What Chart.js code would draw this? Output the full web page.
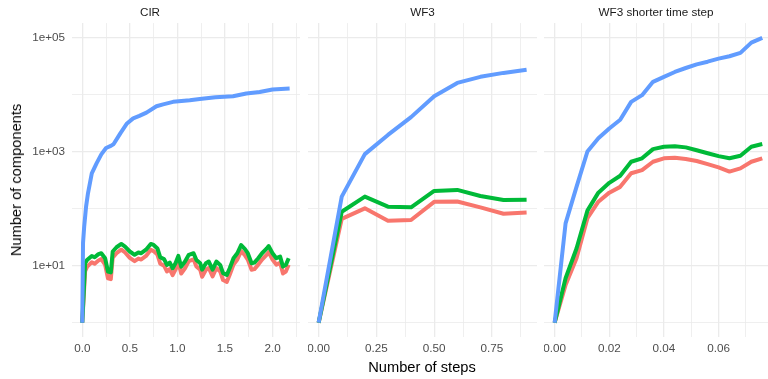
<!DOCTYPE html>
<html lang="en">
<head>
  <meta charset="UTF-8">
  <title>Number of components</title>
  <script src="https://cdn.jsdelivr.net/npm/chart.js"></script>
  <style>
    body { margin: 0; background: #fff; font-family: 'Liberation Sans', Arial, sans-serif; }
    #wrap { position: relative; width: 768px; height: 379px; overflow: hidden; }
    .panel { position: absolute; top: 0; height: 379px; }
    .axis-title { position: absolute; font-size: 14.67px; color: #000; white-space: nowrap; transform: translate(-50%, -50%); }
    #ytitle { left: 15.5px; top: 180px; transform: translate(-50%, -50%) rotate(-90deg); }
    #xtitle { left: 422px; top: 367px; }
  </style>
</head>
<body>
  <div id="wrap">
    <div class="panel" style="left:0px; width:300px;"><canvas id="cir"></canvas></div>
    <div class="panel" style="left:308px; width:229px;"><canvas id="wf3"></canvas></div>
    <div class="panel" style="left:544px; width:224px;"><canvas id="wf3short"></canvas></div>
    <div class="axis-title" id="ytitle">Number of components</div>
    <div class="axis-title" id="xtitle">Number of steps</div>
  </div>

  <script>
    // --- CIR panel ---
    const cirBlueSteps = [0, 0.008, 0.02, 0.04, 0.06, 0.1, 0.15, 0.2, 0.25, 0.3, 0.33, 0.4, 0.47, 0.535, 0.6, 0.675, 0.78, 0.85, 0.955, 1.13, 1.235, 1.4, 1.585, 1.725, 1.865, 2.0, 2.18];
    const cirBlue = [1, 25, 48, 108, 185, 415, 620, 890, 1150, 1250, 1350, 2080, 3100, 3800, 4200, 4800, 6200, 6700, 7400, 7900, 8300, 8900, 9300, 10400, 11000, 12200, 12700];
    const cirSteps = [0, 0.03, 0.05, 0.1, 0.13, 0.17, 0.2, 0.24, 0.27, 0.3, 0.32, 0.36, 0.41, 0.45, 0.5, 0.55, 0.59, 0.62, 0.67, 0.72, 0.75, 0.79, 0.82, 0.86, 0.89, 0.92, 0.95, 0.98, 1.01, 1.04, 1.08, 1.12, 1.17, 1.2, 1.24, 1.26, 1.3, 1.33, 1.37, 1.41, 1.45, 1.48, 1.52, 1.55, 1.59, 1.63, 1.67, 1.71, 1.74, 1.78, 1.81, 1.85, 1.89, 1.94, 1.96, 2.0, 2.04, 2.08, 2.11, 2.14, 2.17];
    const cirGreen = [1, 11, 12.6, 14.8, 14, 15.9, 16.5, 13.5, 7.9, 7.6, 17.7, 21, 24, 21.5, 17.7, 15.5, 17, 16.5, 19, 24, 23, 20, 14, 13, 10.3, 11.3, 9, 11, 14.8, 9.6, 11.8, 15.5, 16.5, 12.6, 11, 8.5, 11, 11.8, 8.5, 11.8, 10.3, 7.4, 6.9, 9, 13.5, 16.5, 23, 19.5, 16.5, 11, 11.3, 13.5, 16.5, 20, 22, 16.5, 13.5, 14.4, 9.6, 10.3, 13.5];
    const cirRed = [1, 8, 9.5, 11.5, 10.8, 12.3, 13, 10.4, 6, 5.8, 13.8, 16.5, 19, 17, 13.7, 12, 13.3, 12.8, 14.8, 19, 18, 15.6, 10.8, 10, 7.9, 8.7, 6.8, 8.5, 11.5, 7.3, 9, 12, 12.9, 9.7, 8.5, 6.4, 8.5, 9.1, 6.5, 9.1, 7.9, 5.6, 5.2, 6.9, 10.4, 12.8, 18, 15.2, 12.8, 8.5, 8.7, 10.4, 12.8, 15.6, 17.2, 12.8, 10.4, 11.2, 7.3, 7.9, 10.4];
    const cirTicks = [0, 0.5, 1, 1.5, 2];
    const cirTickLabels = ['0.0', '0.5', '1.0', '1.5', '2.0'];
    const cirMinor = [0.25, 0.75, 1.25, 1.75, 2.25];

    // --- WF3 panel ---
    const wf3Steps = [0, 0.1, 0.2, 0.3, 0.4, 0.5, 0.6, 0.7, 0.8, 0.9];
    const wf3Blue = [1, 162, 900, 1950, 4000, 9300, 15900, 20300, 23800, 27000];
    const wf3Green = [1, 88, 162, 108, 105, 204, 212, 166, 141, 143];
    const wf3Red = [1, 66, 101, 61, 63, 131, 133, 105, 81, 85];
    const wf3Ticks = [0, 0.25, 0.5, 0.75];
    const wf3TickLabels = ['0.00', '0.25', '0.50', '0.75'];
    const wf3Minor = [0.125, 0.375, 0.625, 0.875];

    // --- WF3 shorter time step panel ---
    const shortSteps = [0, 0.004, 0.008, 0.012, 0.016, 0.02, 0.024, 0.028, 0.032, 0.036, 0.04, 0.044, 0.048, 0.052, 0.056, 0.06, 0.064, 0.068, 0.072, 0.076];
    const shortBlue = [1, 55, 240, 1000, 1700, 2530, 3600, 7400, 9700, 16600, 20300, 24700, 29000, 33600, 37400, 42300, 46600, 53300, 80800, 97600];
    const shortGreen = [1, 6, 20, 92, 190, 282, 375, 660, 760, 1100, 1210, 1240, 1180, 1050, 930, 830, 760, 840, 1210, 1350];
    const shortRed = [1, 4.6, 13.5, 68, 132, 190, 240, 415, 470, 660, 760, 775, 740, 680, 600, 525, 445, 505, 660, 760];
    const shortTicks = [0, 0.02, 0.04, 0.06];
    const shortTickLabels = ['0.00', '0.02', '0.04', '0.06'];
    const shortMinor = [0.01, 0.03, 0.05, 0.07];

    // shared log y axis
    const yTicks = [10, 1000, 100000];
    const yTickLabels = ['1e+01', '1e+03', '1e+05'];
    const yMinor = [1, 100, 10000];

    const FONT = "'Liberation Sans', Arial, sans-serif";
    const GRID = '#EBEBEB';
    Chart.defaults.font.family = FONT;

    function pts(xs, ys) {
      return xs.map((x, i) => ({ x: x, y: ys[i] }));
    }

    function labelFor(value, ticks, labels) {
      const i = ticks.findIndex(t => Math.abs(t - value) < 1e-9);
      return i >= 0 ? labels[i] : '';
    }

    function makePanel(id, cfg) {
      const xAll = cfg.xTicks.concat(cfg.xMinor).sort((a, b) => a - b);
      const yAll = yTicks.concat(yMinor).sort((a, b) => a - b);
      const blueSteps = cfg.blueSteps || cfg.steps;

      return new Chart(document.getElementById(id).getContext('2d'), {
        type: 'line',
        data: {
          datasets: [
            { data: pts(blueSteps, cfg.blue), borderColor: '#619CFF' },
            { data: pts(cfg.steps, cfg.green), borderColor: '#00BA38' },
            { data: pts(cfg.steps, cfg.red), borderColor: '#F8766D' }
          ]
        },
        options: {
          responsive: true,
          maintainAspectRatio: false,
          animation: false,
          layout: { padding: 0 },
          elements: {
            point: { radius: 0 },
            line: { borderWidth: 4, tension: 0, fill: false, borderJoinStyle: 'round' }
          },
          plugins: {
            legend: { display: false },
            tooltip: { enabled: false },
            title: {
              display: true,
              text: cfg.title,
              color: '#1A1A1A',
              font: { size: 11.7, weight: 'normal' },
              padding: { top: 5.5, bottom: 3.5 }
            }
          },
          scales: {
            x: {
              type: 'linear',
              min: cfg.xMin,
              max: cfg.xMax,
              afterBuildTicks: s => { s.ticks = xAll.map(v => ({ value: v })); },
              afterFit: s => { s.height = 42; s.paddingLeft = 0; s.paddingRight = 0; },
              border: { display: false },
              grid: {
                color: GRID,
                drawTicks: false,
                lineWidth: c => (c.tick && cfg.xMinor.some(m => Math.abs(m - c.tick.value) < 1e-9)) ? 0.8 : 1.3
              },
              ticks: {
                autoSkip: false,
                maxRotation: 0,
                padding: 5,
                color: '#4D4D4D',
                font: { size: 11.7 },
                callback: v => labelFor(v, cfg.xTicks, cfg.xTickLabels)
              }
            },
            y: {
              type: 'logarithmic',
              min: Math.pow(10, -0.25),
              max: Math.pow(10, 5.25),
              afterBuildTicks: s => { s.ticks = yAll.map(v => ({ value: v })); },
              afterFit: s => { s.width = cfg.yWidth; s.paddingTop = 0; s.paddingBottom = 0; },
              border: { display: false },
              grid: {
                color: GRID,
                drawTicks: false,
                lineWidth: c => (c.tick && yMinor.includes(c.tick.value)) ? 0.8 : 1.3
              },
              ticks: {
                display: cfg.yLabels,
                autoSkip: false,
                padding: 7,
                color: '#4D4D4D',
                font: { size: 11.7 },
                callback: v => labelFor(v, yTicks, yTickLabels)
              }
            }
          }
        }
      });
    }

    makePanel('cir', {
      title: 'CIR', steps: cirSteps, blueSteps: cirBlueSteps,
      blue: cirBlue, green: cirGreen, red: cirRed,
      xTicks: cirTicks, xTickLabels: cirTickLabels, xMinor: cirMinor,
      xMin: -0.108, xMax: 2.289, yWidth: 72, yLabels: true
    });

    makePanel('wf3', {
      title: 'WF3', steps: wf3Steps,
      blue: wf3Blue, green: wf3Green, red: wf3Red,
      xTicks: wf3Ticks, xTickLabels: wf3TickLabels, xMinor: wf3Minor,
      xMin: -0.046, xMax: 0.945, yWidth: 0, yLabels: false
    });

    makePanel('wf3short', {
      title: 'WF3 shorter time step', steps: shortSteps,
      blue: shortBlue, green: shortGreen, red: shortRed,
      xTicks: shortTicks, xTickLabels: shortTickLabels, xMinor: shortMinor,
      xMin: -0.0039, xMax: 0.0781, yWidth: 0, yLabels: false
    });
  </script>
</body>
</html>
